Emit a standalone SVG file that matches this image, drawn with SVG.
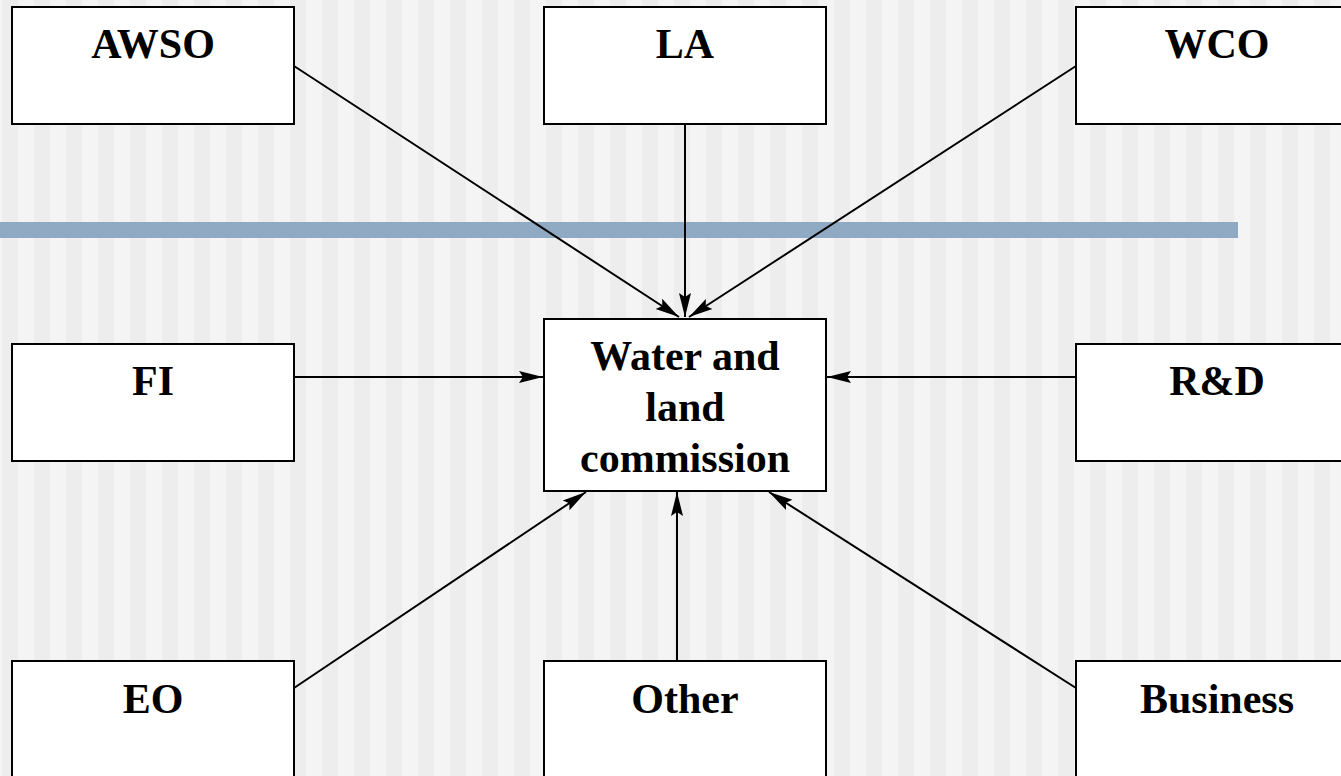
<svg xmlns="http://www.w3.org/2000/svg" width="1341" height="776" viewBox="0 0 1341 776">
  <defs>
    <!-- vertical stripe background, 32px period -->
    <pattern id="stripes" x="2" y="0" width="32" height="776" patternUnits="userSpaceOnUse">
      <rect x="0" y="0" width="16" height="776" fill="#ededed"/>
      <rect x="16" y="0" width="16" height="776" fill="#f4f4f4"/>
    </pattern>
    <marker id="arrow" markerUnits="userSpaceOnUse" markerWidth="26" markerHeight="14" refX="24" refY="7" orient="auto">
      <path d="M0,1 L24,7 L0,13 L4,7 Z" fill="#000"/>
    </marker>
    <style>
      .box { fill: #ffffff; stroke: #000000; stroke-width: 2; }
      .label { font-family: "Liberation Serif", "Times New Roman", serif; font-weight: bold; font-size: 42px; fill: #000; text-anchor: middle; }
      .conn line { stroke: #000; stroke-width: 2; marker-end: url(#arrow); }
    </style>
  </defs>

  <rect x="0" y="0" width="1341" height="776" fill="url(#stripes)"/>
  <!-- horizontal accent bar -->
  <rect x="0" y="222" width="1238" height="16" fill="#90aac4"/>

  <g class="conn" id="connectors">
    <line x1="294" y1="66" x2="679" y2="317"/>
    <line x1="685" y1="124" x2="685" y2="317"/>
    <line x1="1076" y1="66" x2="689" y2="317"/>
    <line x1="294" y1="377" x2="543" y2="377"/>
    <line x1="1076" y1="377" x2="827" y2="377"/>
    <line x1="294" y1="688" x2="586" y2="492"/>
    <line x1="677" y1="661" x2="677" y2="492"/>
    <line x1="1076" y1="688" x2="769" y2="492"/>
  </g>

  <g id="awso">
    <rect class="box" x="12" y="7" width="282" height="117"/>
    <text class="label" x="153" y="58">AWSO</text>
  </g>
  <g id="la">
    <rect class="box" x="544" y="7" width="282" height="117"/>
    <text class="label" x="685" y="58">LA</text>
  </g>
  <g id="wco">
    <rect class="box" x="1076" y="7" width="282" height="117"/>
    <text class="label" x="1217" y="58">WCO</text>
  </g>
  <g id="fi">
    <rect class="box" x="12" y="344" width="282" height="117"/>
    <text class="label" x="153" y="395">FI</text>
  </g>
  <g id="commission">
    <rect class="box" x="544" y="319" width="282" height="172"/>
    <text class="label" x="685" y="370">Water and</text>
    <text class="label" x="685" y="421">land</text>
    <text class="label" x="685" y="472">commission</text>
  </g>
  <g id="rd">
    <rect class="box" x="1076" y="344" width="282" height="117"/>
    <text class="label" x="1217" y="395">R&amp;D</text>
  </g>
  <g id="eo">
    <rect class="box" x="12" y="661" width="282" height="117"/>
    <text class="label" x="153" y="713">EO</text>
  </g>
  <g id="other">
    <rect class="box" x="544" y="661" width="282" height="117"/>
    <text class="label" x="685" y="713">Other</text>
  </g>
  <g id="business">
    <rect class="box" x="1076" y="661" width="282" height="117"/>
    <text class="label" x="1217" y="713">Business</text>
  </g>
</svg>
